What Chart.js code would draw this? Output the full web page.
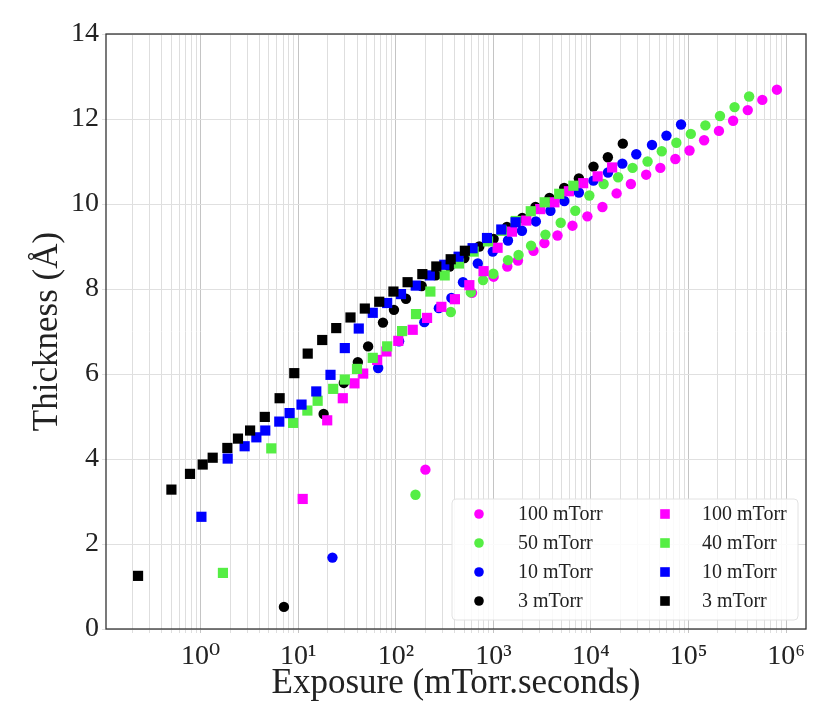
<!DOCTYPE html>
<html>
<head>
<meta charset="utf-8">
<script src="https://cdn.jsdelivr.net/npm/chart.js@4.4.1/dist/chart.umd.min.js"></script>
<style>
  html, body { margin: 0; padding: 0; background: #fff; }
  #wrap { width: 830px; height: 727px; position: relative; }
</style>
</head>
<body>
<div id="wrap"><canvas id="thicknessChart"></canvas></div>
<script>
// values (exposure in mTorr.s, thickness in Angstrom)
const circ100X = [201, 604, 1005, 1388, 1786, 2579, 3334, 4541, 6465, 9189, 13110, 18320, 25670, 36810, 51420, 73290, 102400, 144500, 205100, 286500, 404700, 570600, 805500];
const circ100Y = [3.75, 7.91, 8.29, 8.53, 8.67, 8.90, 9.08, 9.26, 9.49, 9.71, 9.93, 10.25, 10.47, 10.69, 10.85, 11.06, 11.26, 11.50, 11.72, 11.96, 12.21, 12.45, 12.69];

const circ50X = [159, 366, 587, 783, 998, 1411, 1811, 2432, 3415, 4897, 6909, 9630, 13490, 18980, 26720, 38040, 53190, 75040, 105600, 148900, 210100, 296400, 418100];
const circ50Y = [3.16, 7.46, 7.92, 8.21, 8.36, 8.68, 8.80, 9.02, 9.28, 9.56, 9.84, 10.20, 10.47, 10.63, 10.85, 11.00, 11.24, 11.44, 11.65, 11.85, 12.07, 12.28, 12.53];

const circ10X = [22.4, 65.9, 108, 196, 276, 371, 488, 692, 986, 1411, 1962, 2722, 3841, 5331, 7517, 10600, 14960, 20960, 29150, 42220, 59400, 83800];
const circ10Y = [1.68, 6.14, 6.77, 7.22, 7.55, 7.79, 8.16, 8.60, 8.88, 9.14, 9.37, 9.59, 9.84, 10.07, 10.27, 10.55, 10.74, 10.95, 11.17, 11.39, 11.61, 11.87];

const circ3X = [7.13, 18.2, 29.3, 40.8, 52.0, 73.8, 95.7, 127, 184, 257, 356, 504, 717, 1005, 1377, 1977, 2700, 3756, 5318, 7520, 10620, 14900, 21200];
const circ3Y = [0.52, 5.06, 5.79, 6.28, 6.65, 7.21, 7.51, 7.77, 8.07, 8.32, 8.53, 8.73, 9.00, 9.18, 9.46, 9.67, 9.93, 10.14, 10.38, 10.60, 10.88, 11.10, 11.42];

const sq100X = [11.1, 19.8, 28.6, 37.7, 46.3, 64.4, 80.1, 106, 149, 209, 293, 403, 567, 794, 1104, 1550, 2172, 3020, 4221, 5940, 8323, 11710, 16480];
const sq100Y = [3.06, 4.91, 5.43, 5.78, 6.01, 6.33, 6.53, 6.78, 7.04, 7.32, 7.58, 7.76, 8.09, 8.42, 8.97, 9.35, 9.61, 9.88, 10.04, 10.30, 10.49, 10.65, 10.86];

const sq40X = [1.69, 5.29, 8.85, 12.4, 15.8, 22.8, 30.0, 40.0, 58.0, 81.5, 116, 161, 226, 317, 444, 627, 881, 1219, 1696, 2415, 3358, 4727, 6606];
const sq40Y = [1.32, 4.25, 4.85, 5.14, 5.37, 5.65, 5.87, 6.12, 6.38, 6.65, 7.01, 7.41, 7.94, 8.32, 8.60, 8.88, 9.12, 9.37, 9.60, 9.83, 10.04, 10.24, 10.43];

const sq10X = [1.017, 1.89, 2.82, 3.72, 4.59, 6.39, 8.15, 10.8, 15.3, 21.4, 30.0, 41.7, 58.0, 81.5, 113, 160, 223, 314, 440, 612, 860, 1205, 1688];
const sq10Y = [2.64, 4.01, 4.30, 4.51, 4.67, 4.88, 5.08, 5.28, 5.59, 5.98, 6.61, 7.07, 7.44, 7.67, 7.88, 8.08, 8.32, 8.57, 8.76, 8.96, 9.20, 9.40, 9.57];

const sq3X = [0.228, 0.501, 0.777, 1.048, 1.327, 1.876, 2.41, 3.21, 4.54, 6.44, 9.10, 12.5, 17.6, 24.5, 34.3, 48.1, 67.6, 94.5, 132, 187, 260, 365, 510];
const sq3Y = [1.25, 3.28, 3.65, 3.87, 4.03, 4.26, 4.48, 4.67, 4.99, 5.43, 6.02, 6.48, 6.80, 7.08, 7.33, 7.54, 7.70, 7.94, 8.16, 8.35, 8.53, 8.70, 8.90];

const seriesLabels = ["100 mTorr", "50 mTorr", "10 mTorr", "3 mTorr", "100 mTorr", "40 mTorr", "10 mTorr", "3 mTorr"];
const xDecades = [1, 10, 100, 1000, 10000, 100000, 1000000];
const xDecadeLabels = ["10\u2070", "10\u00B9", "10\u00B2", "10\u00B3", "10\u2074", "10\u2075", "10\u2076"];
const yTicks = [0, 2, 4, 6, 8, 10, 12, 14];

const MAGENTA = "#ff00ff", GREEN = "#55ee44", BLUE = "#0000ff", BLACK = "#000000";
const SERIF = "'Liberation Serif', 'DejaVu Serif', serif";

function pts(xs, ys) {
    return xs.map((x, i) => ({ x: x, y: ys[i] }));
}

function series(label, xs, ys, color, shape, idx) {
    const square = shape === "rect";
    return {
        label: label,
        data: pts(xs, ys),
        pointStyle: shape,
        pointRadius: square ? 7.2 : 5.2,
        backgroundColor: color,
        borderColor: color,
        pointBorderWidth: 0,
        showLine: false,
        order: 8 - idx,
    };
}

const datasets = [
    series(seriesLabels[0], circ100X, circ100Y, MAGENTA, "circle", 0),
    series(seriesLabels[1], circ50X, circ50Y, GREEN, "circle", 1),
    series(seriesLabels[2], circ10X, circ10Y, BLUE, "circle", 2),
    series(seriesLabels[3], circ3X, circ3Y, BLACK, "circle", 3),
    series(seriesLabels[4], sq100X, sq100Y, MAGENTA, "rect", 4),
    series(seriesLabels[5], sq40X, sq40Y, GREEN, "rect", 5),
    series(seriesLabels[6], sq10X, sq10Y, BLUE, "rect", 6),
    series(seriesLabels[7], sq3X, sq3Y, BLACK, "rect", 7),
];

// frame round the plot area + two-column legend in the lower right corner
const framePlugin = {
    id: "frame",
    afterDraw(chart) {
        const { ctx, chartArea: a } = chart;
        ctx.save();

        // legend
        const w = 346, h = 121;
        const bx = a.right - 8 - w, by = a.bottom - 9 - h;
        ctx.beginPath();
        ctx.roundRect(bx, by, w, h, 4);
        ctx.fillStyle = "rgba(255,255,255,0.85)";
        ctx.fill();
        ctx.strokeStyle = "#e2e2e2";
        ctx.lineWidth = 1;
        ctx.stroke();

        ctx.font = "20px " + SERIF;
        ctx.textBaseline = "middle";
        ctx.textAlign = "left";
        chart.data.datasets.forEach((ds, i) => {
            const col = Math.floor(i / 4), row = i % 4;
            const mx = bx + (col ? 213 : 27);
            const tx = bx + (col ? 250 : 66);
            const my = by + 15 + row * 29;
            ctx.fillStyle = ds.backgroundColor;
            if (ds.pointStyle === "rect") {
                ctx.fillRect(mx - 4.8, my - 4.8, 9.6, 9.6);
            } else {
                ctx.beginPath();
                ctx.arc(mx, my, 4.8, 0, Math.PI * 2);
                ctx.fill();
            }
            ctx.fillStyle = "#222";
            ctx.fillText(ds.label, tx, my + 1);
        });

        // box
        ctx.strokeStyle = "#333";
        ctx.lineWidth = 1.3;
        ctx.strokeRect(a.left, a.top, a.right - a.left, a.bottom - a.top);
        ctx.restore();
    },
};

new Chart(document.getElementById("thicknessChart").getContext("2d"), {
    type: "scatter",
    data: { datasets: datasets },
    options: {
        responsive: true,
        maintainAspectRatio: false,
        animation: false,
        events: [],
        layout: { padding: { top: 34, right: 24, left: 0, bottom: 0 } },
        plugins: { legend: { display: false }, tooltip: { enabled: false } },
        scales: {
            x: {
                type: "logarithmic",
                min: 0.107,
                max: 1.6e6,
                afterBuildTicks(scale) {
                    const t = [];
                    for (let e = -1; e <= 6; e++) {
                        for (let m = 1; m <= 9; m++) {
                            const v = m * Math.pow(10, e);
                            if (v >= scale.min && v <= scale.max) t.push({ value: v });
                        }
                    }
                    scale.ticks = t;
                },
                afterFit(scale) { scale.height = 98; },
                ticks: {
                    autoSkip: false,
                    maxRotation: 0,
                    padding: 7,
                    color: "#222",
                    font: { family: SERIF, size: 28 },
                    callback(value) {
                        const k = xDecades.findIndex(d => Math.abs(d - value) / d < 1e-6);
                        return k >= 0 ? xDecadeLabels[k] : "";
                    },
                },
                grid: {
                    color(ctx) {
                        const v = ctx.tick && ctx.tick.value;
                        const isDecade = v && xDecades.some(d => Math.abs(d - v) / d < 1e-6);
                        return isDecade ? "#c4c4c4" : "#dedede";
                    },
                    lineWidth: 1,
                    tickLength: 4,
                },
                border: { display: false },
                title: {
                    display: true,
                    text: "Exposure (mTorr.seconds)",
                    color: "#222",
                    font: { family: SERIF, size: 35 },
                    padding: { top: 0, bottom: 22 },
                },
            },
            y: {
                type: "linear",
                min: 0,
                max: 14,
                afterBuildTicks(scale) {
                    scale.ticks = yTicks.map(v => ({ value: v }));
                },
                afterFit(scale) { scale.width = 106; },
                ticks: {
                    padding: 3,
                    color: "#222",
                    font: { family: SERIF, size: 28 },
                },
                grid: { color: "#e0e0e0", lineWidth: 1, tickLength: 4 },
                border: { display: false },
                title: {
                    display: true,
                    text: "Thickness (\u00C5)",
                    color: "#222",
                    font: { family: SERIF, size: 35 },
                    padding: { top: 27, bottom: 0 },
                },
            },
        },
    },
    plugins: [framePlugin],
});
</script>
</body>
</html>
